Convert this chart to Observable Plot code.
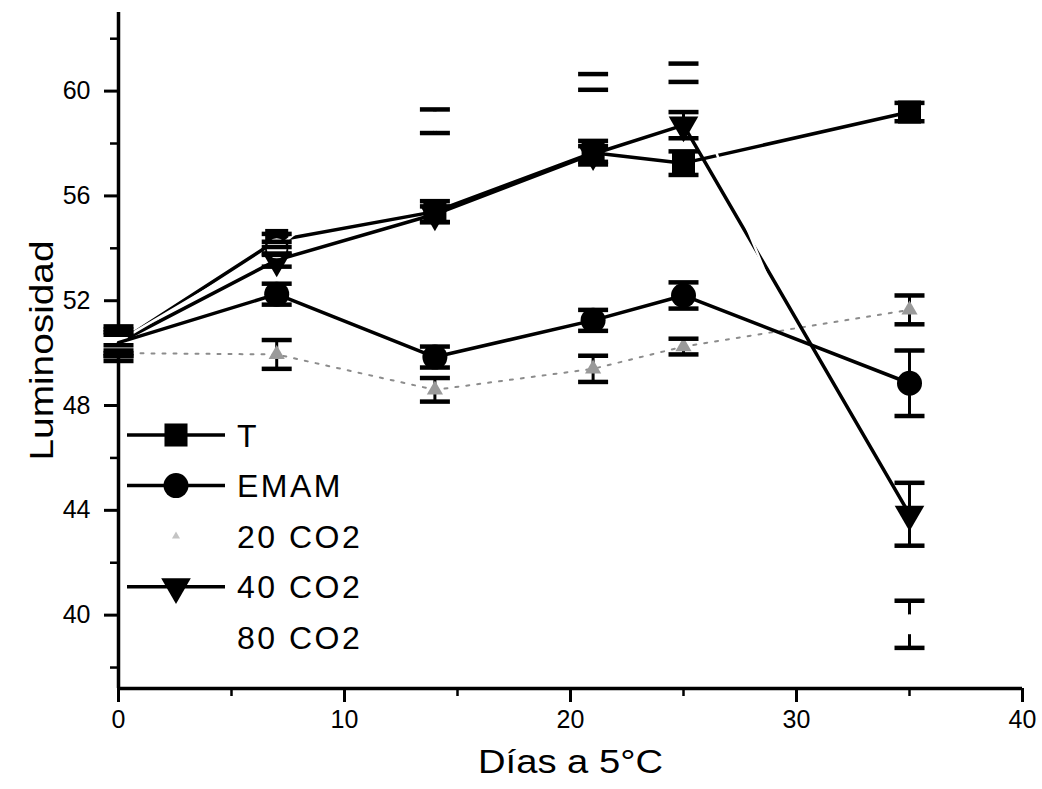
<!DOCTYPE html>
<html>
<head>
<meta charset="utf-8">
<script src="https://cdn.jsdelivr.net/npm/d3@7"></script>
<script src="https://cdn.jsdelivr.net/npm/@observablehq/plot@0.6"></script>
<style>
  html, body { margin: 0; padding: 0; background: #fff; }
  #chart { position: relative; width: 1042px; height: 789px; font-family: "Liberation Sans", Arial, sans-serif; }
  #legend { position: absolute; left: 0; top: 0; pointer-events: none; }
</style>
</head>
<body>
<div id="chart"></div>
<script>
// ---- data ----
const days = [0, 7, 14, 21, 25, 35];
const seriesNames = ["T", "EMAM", "20 CO2", "40 CO2", "80 CO2"];

const tMean    = [50.4, 54.3, 55.4, 57.65, 57.25, 59.2];
const tErr     = [0.5, 0.25, 0.4, 0.45, 0.45, 0.35];
const emamMean = [50.4, 52.25, 49.85, 51.25, 52.2, 48.85];
const emamErr  = [0.4, 0.4, 0.4, 0.4, 0.5, 1.25];
const co20Mean = [50.0, 49.95, 48.6, 49.4, 50.25, 51.65];
const co20Err  = [0.3, 0.55, 0.45, 0.5, 0.3, 0.55];
const co40Mean = [50.4, 53.55, 55.3, 57.6, 58.7, 43.85];
const co40Err  = [0.3, 0.25, 0.3, 0.3, 0.5, 1.2];
const co80Mean = [50.45, 54.0, 58.85, 60.35, 60.7, 39.65];
const co80Err  = [0.57, 0.25, 0.45, 0.3, 0.35, 0.9];

const yMajorTicks = [40, 44, 48, 52, 56, 60];
const yMinorTicks = [38, 42, 46, 50, 54, 58, 62];
const xMajorTicks = [0, 10, 20, 30, 40];
const xMinorTicks = [5, 15, 25, 35];

const xLabel = "Días a 5°C";
const yLabel = "Luminosidad";

// ---- tidy table ----
const means = [tMean, emamMean, co20Mean, co40Mean, co80Mean];
const errs = [tErr, emamErr, co20Err, co40Err, co80Err];
const table = [];
seriesNames.forEach((name, i) => days.forEach((d, j) => {
  table.push({series: name, day: d, y: means[i][j], lo: means[i][j] - errs[i][j], hi: means[i][j] + errs[i][j]});
}));
const of = (s) => table.filter(d => d.series === s);
const marked = (s) => table.filter(d => d.series === s && d.day > 0);
const visibleSeries = table.filter(d => d.series !== "80 CO2");

const capSymbol = {
  draw(ctx, size) {
    const w = Math.sqrt(size / Math.PI);
    ctx.moveTo(-w, 0);
    ctx.lineTo(w, 0);
  }
};

const font = "Liberation Sans, Arial, sans-serif";

const plot = Plot.plot({
  width: 1042,
  height: 789,
  marginLeft: 118,
  marginRight: 20,
  marginTop: 12,
  marginBottom: 101,
  style: {fontFamily: font, background: "white", color: "black"},
  x: {domain: [0, 40]},
  y: {domain: [37.2, 63]},
  marks: [
    // axes
    Plot.axisY({ticks: yMajorTicks, tickSize: 14, tickPadding: 14, fontSize: 25, strokeWidth: 3, label: null, tickFormat: d => String(d)}),
    Plot.axisY({ticks: yMinorTicks, tickSize: 8, strokeWidth: 2.5, label: null, tickFormat: () => ""}),
    Plot.axisX({ticks: xMajorTicks, tickSize: 14, tickPadding: 8, fontSize: 25, strokeWidth: 3, label: null, tickFormat: d => String(d)}),
    Plot.axisX({ticks: xMinorTicks, tickSize: 8, strokeWidth: 2.5, label: null, tickFormat: () => ""}),
    Plot.ruleX([0], {strokeWidth: 3.5}),
    Plot.ruleY([37.2], {strokeWidth: 3.5}),
    Plot.text([yLabel], {frameAnchor: "left", textAnchor: "middle", dx: -76, rotate: -90, fontSize: 33, text: d => d, className: "ylab"}),
    Plot.text([xLabel], {frameAnchor: "bottom", textAnchor: "middle", dy: 84, fontSize: 33, text: d => d, className: "xlab"}),
    // lines
    Plot.line(of("20 CO2"), {x: "day", y: "y", stroke: "#8c8c8c", strokeWidth: 2, strokeDasharray: "3,8"}),
    Plot.line(of("40 CO2"), {x: "day", y: "y", stroke: "black", strokeWidth: 3.5}),
    Plot.line(of("T"), {x: "day", y: "y", stroke: "black", strokeWidth: 3.5}),
    // error bar stems
    Plot.ruleX(visibleSeries, {x: "day", y1: "lo", y2: "hi", stroke: "black", strokeWidth: 3}),
    Plot.ruleX(of("80 CO2"), {x: "day", y1: "lo", y2: "hi", stroke: "black", strokeWidth: 3}),
    // markers
    Plot.dot(marked("20 CO2"), {x: "day", y: "y", symbol: "triangle", r: 6, fill: "#9a9a9a"}),
    Plot.dot(marked("40 CO2"), {x: "day", y: "y", symbol: "triangle", r: 11, rotate: 180, fill: "black"}),
    Plot.dot(marked("T"), {x: "day", y: "y", symbol: "square", r: 13, fill: "black"}),
    // 80 CO2: white line and white markers
    Plot.line(of("80 CO2"), {x: "day", y: "y", stroke: "white", strokeWidth: 2.5}),
    Plot.dot(of("80 CO2"), {x: "day", y: "y", symbol: "circle", r: 10, fill: "white"}),
    // EMAM drawn above
    Plot.line(of("EMAM"), {x: "day", y: "y", stroke: "black", strokeWidth: 3.5}),
    Plot.dot(marked("EMAM"), {x: "day", y: "y", symbol: "circle", r: 12.5, fill: "black"}),
    // error bar caps on top
    Plot.dot(table, {x: "day", y: "lo", symbol: capSymbol, r: 15, stroke: "black", strokeWidth: 4.5, fill: "none"}),
    Plot.dot(table, {x: "day", y: "hi", symbol: capSymbol, r: 15, stroke: "black", strokeWidth: 4.5, fill: "none"})
  ]
});
const chart = document.getElementById("chart");
chart.appendChild(plot);

// stretch axis titles to match the wide lettering of the original
d3.select(plot).selectAll(".ylab text").attr("textLength", 220).attr("lengthAdjust", "spacingAndGlyphs");
d3.select(plot).selectAll(".xlab text").attr("textLength", 185).attr("lengthAdjust", "spacingAndGlyphs");

// ---- legend overlay ----
const legendItems = [
  {name: "T", symbol: d3.symbolSquare, size: 13 * 13 * Math.PI, fill: "black", line: "black", rotate: 0},
  {name: "EMAM", symbol: d3.symbolCircle, size: 12.5 * 12.5 * Math.PI, fill: "black", line: "black", rotate: 0},
  {name: "20 CO2", symbol: d3.symbolTriangle, size: 3 * 3 * Math.PI, fill: "#c4c4c4", line: null, rotate: 0},
  {name: "40 CO2", symbol: d3.symbolTriangle, size: 11 * 11 * Math.PI, fill: "black", line: "black", rotate: 180},
  {name: "80 CO2", symbol: d3.symbolCircle, size: 10 * 10 * Math.PI, fill: "white", line: "white", rotate: 0}
];
const lg = d3.select(chart).append("svg")
  .attr("id", "legend").attr("width", 1042).attr("height", 789);
const rowY0 = 435, rowStep = 50.6;
legendItems.forEach((it, i) => {
  const y = rowY0 + i * rowStep;
  const g = lg.append("g");
  if (it.line) {
    g.append("line").attr("x1", 127).attr("x2", 225).attr("y1", y).attr("y2", y)
      .attr("stroke", it.line).attr("stroke-width", 3.5);
  }
  g.append("path").attr("d", d3.symbol(it.symbol, it.size)())
    .attr("transform", `translate(176,${y}) rotate(${it.rotate})`)
    .attr("fill", it.fill);
  g.append("text").attr("x", 237).attr("y", y).attr("dy", "0.36em")
    .attr("font-family", font).attr("font-size", 32)
    .attr("letter-spacing", "2.5px").attr("fill", "black").text(it.name);
});
</script>
</body>
</html>
